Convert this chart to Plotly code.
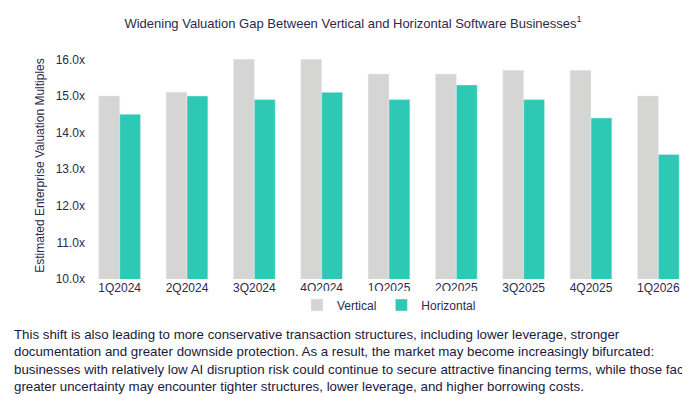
import plotly.graph_objects as go

categories = ["1Q2024","2Q2024","3Q2024","4Q2024","1Q2025","2Q2025","3Q2025","4Q2025","1Q2026"]
vertical = [15.0,15.1,16.0,16.0,15.6,15.6,15.7,15.7,15.0]
horizontal = [14.5,15.0,14.9,15.1,14.9,15.3,14.9,14.4,13.4]
tick_vals = [10,11,12,13,14,15,16]
tick_text = ["10.0x","11.0x","12.0x","13.0x","14.0x","15.0x","16.0x"]

fig = go.Figure()
fig.add_bar(x=categories, y=vertical, name="Vertical", marker_color="#d5d5d3")
fig.add_bar(x=categories, y=horizontal, name="Horizontal", marker_color="#2ec9b5")

W, H = 690, 406
l, r, t, b = 78, 6, 44, 135
fig.update_layout(
    width=W, height=H, margin=dict(l=l, r=r, t=t, b=b, autoexpand=False),
    paper_bgcolor="white", plot_bgcolor="white",
    barmode="group", bargap=0.38, bargroupgap=0,
    font=dict(family="Liberation Sans, Arial", size=12, color="#2b2a4e"),
    title=dict(text="Widening Valuation Gap Between Vertical and Horizontal Software Businesses<sup>1</sup>",
               x=0.5, xanchor="center", y=1-15/H, yanchor="middle",
               font=dict(size=13, color="#2b2a4e")),
    showlegend=True,
    legend=dict(orientation="h", x=0.5, xanchor="center", yref="container", y=1-297/H, yanchor="middle",
                font=dict(size=12, color="#2b2a4e"), traceorder="normal"),
    xaxis=dict(showline=False, automargin=False, tickfont=dict(size=12, color="#2b2a4e"), ticks=""),
    yaxis=dict(range=[10, 16.2], tickvals=tick_vals, ticktext=tick_text, showgrid=False, automargin=False,
               tickfont=dict(size=12, color="#2b2a4e"),
               title=dict(text="Estimated Enterprise Valuation Multiples", font=dict(size=12, color="#2b2a4e"), standoff=8)),
)

para = ("This shift is also leading to more conservative transaction structures, including lower leverage, stronger<br>"
        "documentation and greater downside protection. As a result, the market may become increasingly bifurcated:<br>"
        "businesses with relatively low AI disruption risk could continue to secure attractive financing terms, while those facing<br>"
        "greater uncertainty may encounter tighter structures, lower leverage, and higher borrowing costs.")
fig.add_annotation(text=para, xref="paper", yref="paper", x=-(l-4)/(W-l-r), xanchor="left",
                   y=-(317-(H-b))/(H-t-b), yanchor="top", showarrow=False, align="left",
                   font=dict(size=13.3, color="#1a1a3a", family="Liberation Sans, Arial"))

fig.write_html("out.html")
